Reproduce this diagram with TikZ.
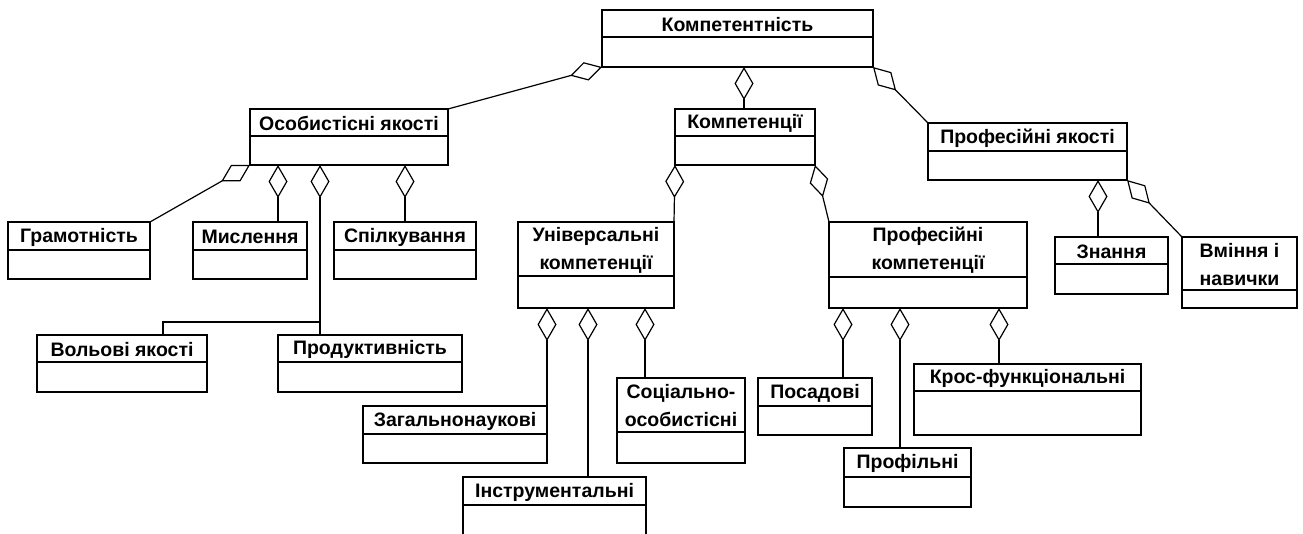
\documentclass[tikz,border=0pt]{standalone}
\usepackage{fontspec}
\setmainfont{Liberation Sans}
\usetikzlibrary{arrows.meta}
\tikzset{
  clsbox/.style={draw, line width=1.2pt, inner sep=0pt, outer sep=0pt},
  clstitle/.style={font=\bfseries\fontsize{19.5}{28}\selectfont, align=center, inner sep=0pt},
  divider/.style={line width=1.2pt},
  agg/.style={line width=1.2pt, -{Diamond[open, length=33pt, width=19pt, line width=1.2pt]}},
  link/.style={line width=1.2pt}
}
\newcommand\umlcls[7]{%
  \node[clsbox, minimum width={(#4-#2)*1pt}, minimum height={(#5-#3)*1pt}] (#1) at ({(#2+#4)/2},{(#3+#5)/2}) {};
  \draw[divider] (#1.west |- 0,#6) -- (#1.east |- 0,#6);
  \node[clstitle] (#1-t) at ({(#2+#4)/2},{(#3+#6)/2+1}) {#7};
}
\begin{document}
\begin{tikzpicture}[x=1pt, y=-1pt]
\useasboundingbox (0,0) rectangle (1303,533);
\umlcls{komp}{602}{10}{873}{67}{37}{Компетентність}
\umlcls{osob}{250}{109}{448}{165}{136}{Особистісні якості}
\umlcls{kompc}{675}{109}{815}{165}{136}{Компетенції}
\umlcls{profy}{928}{123}{1127}{180}{151}{Професійні якості}
\umlcls{gram}{8}{222}{150}{279}{250}{Грамотність}
\umlcls{misl}{193}{222}{307}{279}{250}{Мислення}
\umlcls{spil}{334}{222}{476}{279}{250}{Спілкування}
\umlcls{volo}{37}{335}{207}{392}{362}{Вольові якості}
\umlcls{prod}{278}{335}{462}{392}{362}{Продуктивність}
\umlcls{univ}{518}{222}{674}{308}{276}{Універсальні\\компетенції}
\umlcls{profk}{829}{222}{1027}{308}{277}{Професійні\\компетенції}
\umlcls{znan}{1055}{237}{1168}{294}{264}{Знання}
\umlcls{vmin}{1182}{237}{1297}{308}{290}{Вміння і\\навички}
\umlcls{zag}{363}{406}{547}{463}{434}{Загальнонаукові}
\umlcls{instr}{463}{477}{646}{545}{505}{Інструментальні}
\umlcls{soc}{617}{378}{745}{463}{432}{Соціально-\\особистісні}
\umlcls{posad}{758}{378}{872}{435}{406}{Посадові}
\umlcls{profil}{844}{448}{971}{507}{477}{Профільні}
\umlcls{kros}{914}{364}{1141}{435}{391}{Крос-функціональні}
% level 1
\draw[agg] (osob.north east) -- (komp.south west);
\draw[agg] (kompc.north -| 744,0) -- (komp.south -| 744,0);
\draw[agg] (profy.north west) -- (komp.south east);
% osobystisni
\draw[agg] (gram.north east) -- (osob.south west);
\draw[agg] (misl.north -| 278,0) -- (osob.south -| 278,0);
\draw[agg] (spil.north -| 405,0) -- (osob.south -| 405,0);
\coordinate (j1) at (320,322);
\draw[agg] (prod.north -| 320,0) -- (osob.south -| 320,0);
\draw[link] (volo.north -| 163,0) |- (j1);
% kompetentsii
\draw[agg] (univ.north east) -- (kompc.south west);
\draw[agg] (profk.north west) -- (kompc.south east);
% profesiini yakosti
\draw[agg] (znan.north -| 1098,0) -- (profy.south -| 1098,0);
\draw[agg] (vmin.north west) -- (profy.south east);
% universalni
\draw[agg] (zag.north east) -- (univ.south -| 547,0);
\draw[agg] (instr.north -| 588,0) -- (univ.south -| 588,0);
\draw[agg] (soc.north -| 645,0) -- (univ.south -| 645,0);
% profesiini kompetentsii
\draw[agg] (posad.north -| 843,0) -- (profk.south -| 843,0);
\draw[agg] (profil.north -| 900,0) -- (profk.south -| 900,0);
\draw[agg] (kros.north -| 999,0) -- (profk.south -| 999,0);
\end{tikzpicture}
\end{document}
